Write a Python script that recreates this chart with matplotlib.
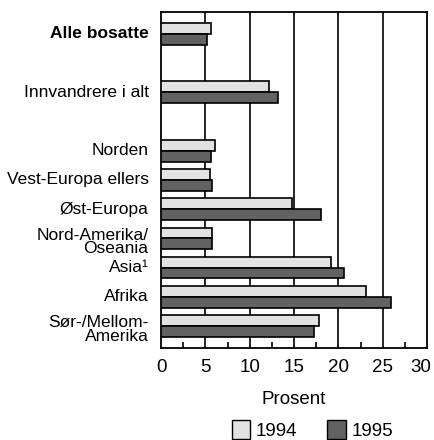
import numpy as np
import matplotlib
matplotlib.use("Agg")
import matplotlib.pyplot as plt
from matplotlib.patches import Patch
from matplotlib.transforms import ScaledTranslation

plt.rcParams['font.family'] = ['Liberation Sans Narrow', 'Liberation Sans', 'DejaVu Sans']
plt.rcParams['font.stretch'] = 'condensed'

# data (top to bottom)
categories = ["Alle bosatte", "Innvandrere i alt", "Norden", "Vest-Europa ellers",
              "Øst-Europa", "Nord-Amerika/\nOseania", "Asia¹", "Afrika",
              "Sør-/Mellom-\nAmerika"]
positions = [10, 8, 6, 5, 4, 3, 2, 1, 0]
values_1994 = [5.6, 12.2, 6.1, 5.5, 14.8, 5.8, 19.2, 23.1, 17.8]
values_1995 = [5.2, 13.2, 5.6, 5.7, 18.0, 5.7, 20.6, 25.9, 17.3]
years = ["1994", "1995"]
xticks = [0, 5, 10, 15, 20, 25, 30]

c94 = '#e2e2e2'
c95 = '#626262'

fig = plt.figure(figsize=(4.34, 4.40), dpi=100)
ax = fig.add_axes([0.371, 0.209, 0.613, 0.764])

pos = np.array(positions, dtype=float)
h = 0.37
ax.barh(pos + h / 2, values_1994, height=h, color=c94, edgecolor='black', linewidth=1.2, zorder=3)
ax.barh(pos - h / 2, values_1995, height=h, color=c95, edgecolor='black', linewidth=1.2, zorder=3)

# vertical grid lines at the major ticks
for x in xticks[1:-1]:
    ax.axvline(x, color='black', linewidth=1.2, zorder=1)

ax.set_xlim(0, 30)
ax.set_ylim(-0.75, 10.75)
ax.set_xticks(xticks)
ax.set_xticks(np.arange(2.5, 30, 5), minor=True)
ax.tick_params(axis='x', which='major', length=0, labelsize=13.5, pad=8)
ax.tick_params(axis='x', which='minor', direction='in', length=4, width=1.2)
ax.set_yticks(pos)
ax.set_yticklabels([])
ax.tick_params(axis='y', length=0)
for s in ax.spines.values():
    s.set_linewidth(1.3)

# keep the "30" inside the figure
last = ax.get_xticklabels()[-1]
last.set_transform(last.get_transform() + ScaledTranslation(-6 / 100, 0, fig.dpi_scale_trans))

for cat, p in zip(categories, positions):
    weight = 'bold' if cat == "Alle bosatte" else 'normal'
    yoff = -0.12 if "\n" in cat else 0
    ax.text(-1.4, p + yoff, cat, ha='right', va='center', fontsize=12.5,
            fontweight=weight, linespacing=0.88, transform=ax.transData)

ax.set_xlabel("Prosent", fontsize=13.5, labelpad=11)

handles = [Patch(facecolor=c94, edgecolor='black', linewidth=1.0),
           Patch(facecolor=c95, edgecolor='black', linewidth=1.0)]
fig.legend(handles, years, loc='center', bbox_to_anchor=(0.72, 0.023), ncol=2,
           frameon=False, fontsize=13.5, handlelength=1.0, handleheight=1.15,
           handletextpad=0.3, columnspacing=1.6)

fig.savefig("out.png", dpi=100)
